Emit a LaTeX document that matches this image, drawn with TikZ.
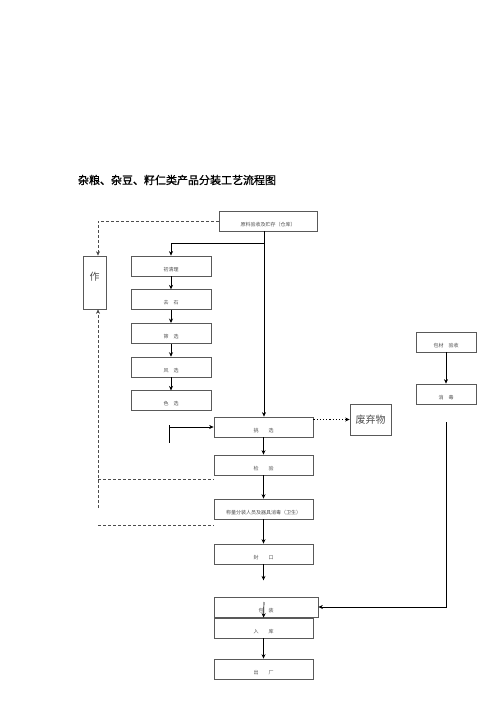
\documentclass[tikz,border=0pt]{standalone}
\usepackage{fontspec}
\newfontfamily\cjk{Noto Sans CJK SC}
\newfontfamily\cjktitle[FakeBold=1.2]{Noto Sans CJK SC}
\usetikzlibrary{arrows.meta,positioning}

\begin{document}
\begin{tikzpicture}[
  x=1pt, y=-1pt,
  font=\cjk,
  >={Stealth[length=4.5pt,width=4pt]},
  stepbox/.style={
    rectangle, draw=gray!70!black, line width=0.7pt, inner sep=0pt,
    minimum width=80pt, minimum height=20pt, text height=13pt, text depth=3pt,
    font=\cjk\fontsize{5}{5}\selectfont, text=gray!60!black
  },
  mainbox/.style={stepbox, minimum width=99pt},
  sidebox/.style={stepbox, minimum width=60pt},
  sinkbox/.style={
    rectangle, draw=gray!70!black, line width=0.7pt, inner sep=0pt,
    font=\cjk\fontsize{10}{12}\selectfont, text=gray!60!black
  },
  arr/.style={->, line width=0.7pt},
  retarr/.style={line width=0.6pt, dashed, dash pattern=on 3pt off 2pt, gray!60!black},
]
\useasboundingbox (0,0) rectangle (500,707);

%% Title
\node[font=\cjktitle\fontsize{11}{13}\selectfont] (title) at (177,180)
  {杂粮、杂豆、籽仁类产品分装工艺流程图};

%% Raw material intake (top)
\node[mainbox, minimum width=98pt] (intake) at (268,221) {原料验收及贮存（仓库）};

%% Cleaning line (left column)
\node[stepbox] (clean) at (171,266) {初清理};
\node[stepbox, below=13pt of clean] (stone) {去\quad 石};
\node[stepbox, below=13pt of stone] (sieve) {筛\quad 选};
\node[stepbox, below=13pt of sieve] (wind)  {风\quad 选};
\node[stepbox, below=13pt of wind]  (color) {色\quad 选};

%% Rework box (far left)
\node[sinkbox, minimum width=23pt, minimum height=53pt, text height=22pt, text depth=27pt]
  (work) at (94.5,282.5) {作};

%% Main line
\node[mainbox] (pick)  at (263.5,427) {挑\qquad 选};
\node[mainbox] (check) at (263.5,465) {检\qquad 验};
\node[mainbox] (fill)  at (263.5,509) {称量分装人员及器具消毒（卫生）};
\node[mainbox] (seal)  at (263.5,554) {封\qquad 口};
\node[mainbox, minimum width=104pt] (pack) at (266,607) {包\quad 装};
\node[mainbox] (store) at (263.5,628) {入\qquad 库};
\node[mainbox] (ship)  at (263.5,669) {出\qquad 厂};

%% Waste
\node[sinkbox, minimum width=41pt, minimum height=31pt] (waste) at (370.5,419.5) {废弃物};

%% Packaging material line (right)
\node[sidebox] (matin) at (446,342) {包材\quad 验收};
\node[sidebox] (disin) at (446,394) {消\quad 毒};

%% Helper points
\coordinate (split) at (264,243);
\coordinate (feed)  at (169,425);
\coordinate (feedend) at (169,443);
\coordinate (back)  at (98,508);
\coordinate (ret1)  at (98,479);
\coordinate (ret2)  at (98,525);
\coordinate (matend) at (446,422);
\coordinate (resume) at (264,602);

%% Main flow arrows
\draw[arr] (intake.south -| split) -- (split |- pick.north);
\draw[arr] (split) -| (clean.north);
\draw[arr] (clean) -- (stone);
\draw[arr] (stone) -- (sieve);
\draw[arr] (sieve) -- (wind);
\draw[arr] (wind)  -- (color);
\draw[line width=0.7pt] (feed) -- (feedend);
\draw[arr] (feed |- pick.west) -- (pick.west);
\draw[arr] (pick)  -- (check);
\draw[arr] (check) -- (fill);
\draw[arr] (fill)  -- (seal);
\draw[arr] (seal.south) -- ++(0,16);
\draw[arr] (resume) -- (store.north);
\draw[arr] (store) -- (ship);

%% Waste (dotted)
\draw[->, line width=1.2pt, dotted] (pick.east |- waste.west) -- (waste.west);

%% Packaging material
\draw[arr] (matin) -- (disin);
\draw[arr] (matend) |- (pack.east);

%% Rework (dashed)
\draw[retarr, ->] (intake.west) -| (back |- work.north);
\draw[retarr, ->] (back) -- (back |- work.south);
\draw[retarr] (ret1) -- (ret1 -| check.west);
\draw[retarr] (ret2) -- (ret2 -| fill.west);

\end{tikzpicture}
\end{document}
